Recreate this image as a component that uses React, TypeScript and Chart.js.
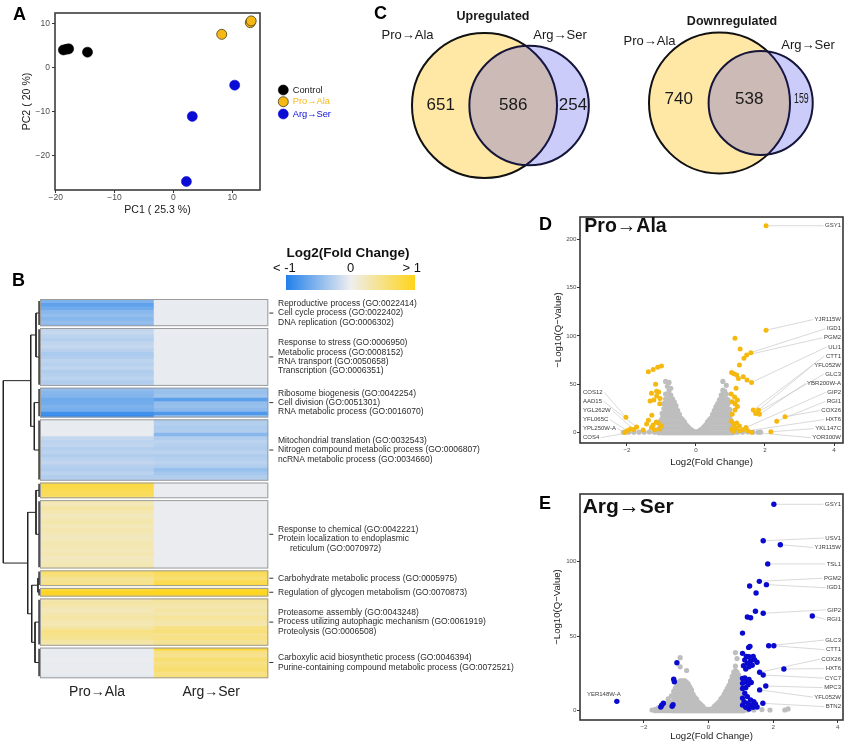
import React, { useEffect, useRef } from 'react';
import { Chart, registerables } from 'chart.js';

Chart.register(...registerables);

const FONT = "'Liberation Sans', Arial, Helvetica, sans-serif";

// ---------------- Panel A : PCA ----------------
const pcaLabels = ['Control', 'Pro→Ala', 'Arg→Ser'];
const pcaControlX = [-18.7, -18.2, -17.8, -14.6];
const pcaControlY = [4.1, 4.25, 4.35, 3.6];
const pcaProAlaX = [8.2, 13.05, 13.2];
const pcaProAlaY = [7.65, 10.3, 10.7];
const pcaArgSerX = [10.4, 3.2, 2.2];
const pcaArgSerY = [-3.9, -11.0, -25.8];
const pcaTicksX = [-20, -10, 0, 10];
const pcaTicksY = [-20, -10, 0, 10];
const pcaColors = ['#000000', '#F6B913', '#0B0BD6'];

// ---------------- Panel B : heatmap ----------------
const heatColumns = ['Pro→Ala', 'Arg→Ser'];
const clusterSizes = [8, 17, 9, 18, 5, 20, 5, 3, 14, 9];
const heatProAla = [
  -0.55, -0.7, -0.62, -0.5, -0.45, -0.5, -0.45, -0.48,
  -0.22, -0.2, -0.25, -0.28, -0.22, -0.2, -0.26, -0.33, -0.3, -0.24, -0.27, -0.22, -0.3, -0.28, -0.25, -0.3, -0.27,
  -0.45, -0.5, -0.52, -0.62, -0.6, -0.55, -0.58, -0.85, -0.9,
  -0.03, -0.03, -0.03, -0.03, -0.03, -0.2, -0.25, -0.22, -0.28, -0.25, -0.3, -0.25, -0.22, -0.28, -0.3, -0.25, -0.3, -0.28,
  0.8, 0.78, 0.72, 0.68, 0.62,
  0.3, 0.25, 0.35, 0.3, 0.22, 0.28, 0.32, 0.25, 0.3, 0.28, 0.22, 0.25, 0.3, 0.28, 0.25, 0.3, 0.22, 0.25, 0.28, 0.3,
  0.62, 0.55, 0.42, 0.45, 0.52,
  0.85, 0.95, 0.9,
  0.3, 0.35, 0.3, 0.25, 0.3, 0.35, 0.3, 0.28, 0.35, 0.5, 0.48, 0.42, 0.35, 0.3,
  -0.03, -0.03, -0.03, -0.02, -0.03, -0.03, -0.02, -0.03, -0.06,
];
const heatArgSer = [
  -0.03, -0.03, -0.03, -0.03, -0.03, -0.03, -0.03, -0.03,
  -0.03, -0.03, -0.03, -0.03, -0.03, -0.03, -0.03, -0.03, -0.03, -0.03, -0.03, -0.03, -0.03, -0.03, -0.03, -0.03, -0.03,
  -0.4, -0.42, -0.38, -0.72, -0.45, -0.42, -0.48, -0.78, -0.42,
  -0.3, -0.28, -0.32, -0.3, -0.5, -0.3, -0.25, -0.28, -0.3, -0.25, -0.3, -0.28, -0.25, -0.3, -0.42, -0.35, -0.3, -0.28,
  -0.02, -0.02, -0.02, -0.02, -0.02,
  -0.02, -0.02, -0.02, -0.02, -0.02, -0.02, -0.02, -0.02, -0.02, -0.02, -0.02, -0.02, -0.02, -0.02, -0.02, -0.02, -0.02, -0.02, -0.02, -0.02,
  0.72, 0.66, 0.58, 0.75, 0.8,
  0.9, 0.97, 0.88,
  0.38, 0.35, 0.3, 0.35, 0.3, 0.4, 0.35, 0.3, 0.5, 0.55, 0.45, 0.5, 0.42, 0.45,
  0.85, 0.5, 0.45, 0.6, 0.5, 0.55, 0.6, 0.5, 0.55,
];
const goTerms: string[][] = [
  ['Reproductive process (GO:0022414)', 'Cell cycle process (GO:0022402)', 'DNA replication (GO:0006302)'],
  ['Response to stress (GO:0006950)', 'Metabolic process (GO:0008152)', 'RNA transport (GO:0050658)', 'Transcription (GO:0006351)'],
  ['Ribosome biogenesis (GO:0042254)', 'Cell division (GO:0051301)', 'RNA metabolic process (GO:0016070)'],
  ['Mitochondrial translation (GO:0032543)', 'Nitrogen compound metabolic process (GO:0006807)', 'ncRNA metabolic process (GO:0034660)'],
  [],
  ['Response to chemical (GO:0042221)', 'Protein localization to endoplasmic', ' reticulum (GO:0070972)'],
  ['Carbohydrate metabolic process (GO:0005975)'],
  ['Regulation of glycogen metabolism (GO:0070873)'],
  ['Proteasome assembly (GO:0043248)', 'Process utilizing autophagic mechanism (GO:0061919)', 'Proteolysis (GO:0006508)'],
  ['Carboxylic acid biosynthetic process (GO:0046394)', 'Purine-containing compound metabolic process (GO:0072521)'],
];
const heatLegendTitle = 'Log2(Fold Change)';
const heatLegendLabels = ['< -1', '0', '> 1'];
// dendrogram: [childA, childB, height]; leaves 0..9 are clusters, merges create nodes 10..
const dendroMerges: [number, number, number][] = [
  [0, 1, 0.109],
  [2, 3, 0.155],
  [10, 11, 0.253],
  [4, 5, 0.109],
  [6, 7, 0.055],
  [8, 9, 0.136],
  [14, 15, 0.226],
  [13, 16, 0.335],
  [12, 17, 1.0],
];
const dendroLeafHeight = 0.025;

// ---------------- Panel C : Venn ----------------
const vennSetNames = ['Pro→Ala', 'Arg→Ser'];
const vennTitles = ['Upregulated', 'Downregulated'];
const vennUpCounts = [651, 586, 254];
const vennDownCounts = [740, 538, 159];

// ---------------- Panel D : volcano Pro→Ala ----------------
const volDTicksX = [-2, 0, 2, 4];
const volDTicksY = [0, 50, 100, 150, 200];
const sigDX = [2.03, 2.03, 1.13, 1.28, 1.59, 1.47, 1.39, 1.26, 1.03, 1.10, 1.18, 1.37, 1.23, 1.48, 1.61, 1.16, 1.02, 1.12, 1.20, 1.05,
  1.13, 1.20, 1.13, 1.05, 1.66, 1.81, 1.73, 1.84, 2.34, 2.58, 1.02, 1.10, 1.18, 1.15, 1.26, 1.03, 1.35, 1.45, 1.50, 1.61, 2.17, 1.08, 1.25,
  -1.38, -1.24, -1.11, -1.00, -1.17, -1.14, -1.29, -1.14, -1.04, -1.33, -1.22, -1.05, -1.08, -1.28, -1.38, -1.24, -1.09, -1.00, -1.29,
  -1.43, -1.15, -1.05, -1.20, -2.03, -1.72, -1.80, -2.00, -2.06, -1.53, -1.90];
const sigDY = [214, 106, 97.6, 86.6, 82.8, 80.3, 77, 70, 62.4, 61, 59.7, 58, 56, 54.5, 52, 45.9, 40, 37, 33.8, 32,
  30, 27, 23.4, 19, 23.4, 23.4, 20, 19, 12, 16.5, 12, 9, 10, 5, 7, 4, 3, 5.5, 2, 0.5, 1, 1.5, 2,
  63, 65.5, 67.6, 69, 50, 43, 40.7, 38, 35.5, 32.8, 33.8, 30, 42, 18, 13, 8, 10, 7, 5.5,
  9, 11, 4, 3, 16, 6, 3.4, 2, 0.3, 2.8, 4];
const grayDCols: [number, number[]][] = [
  [0.03, [0, 1]], [0.08, [0, 1.5]], [0.13, [0, 2, 3]], [0.18, [0, 2, 4]], [0.23, [0, 3, 6]], [0.28, [0, 4, 8]],
  [0.33, [0, 4, 8, 11]], [0.38, [0, 5, 9, 13]], [0.43, [0, 5, 10, 15]], [0.48, [0, 5, 10, 15, 19]],
  [0.53, [0, 5, 10, 15, 20, 23]], [0.58, [0, 5, 10, 15, 20, 25, 27]], [0.63, [0, 5, 10, 15, 20, 25, 30]],
  [0.68, [0, 5, 10, 15, 20, 25, 30, 34]], [0.73, [0, 5, 10, 15, 20, 25, 30, 35, 39]],
  [0.78, [0, 5, 10, 15, 20, 25, 30, 35, 40, 44, 53]], [0.83, [0, 5, 10, 15, 20, 25, 30, 35, 40, 43]],
  [0.88, [0, 5, 10, 15, 20, 25, 30, 35, 40, 49]], [0.93, [0, 5, 10, 15, 20, 25, 30, 34]],
  [0.98, [0, 5, 10, 15, 20, 24]], [1.03, [0, 4, 8, 12]], [1.08, [0, 2, 4]],
  [1.2, [0.5]], [1.35, [0.5]], [1.5, [0.8]], [1.65, [0.5]], [1.8, [0.5]], [1.87, [0.6]],
  [-0.03, [0, 1]], [-0.08, [0, 1.5]], [-0.13, [0, 2, 3]], [-0.18, [0, 2, 4]], [-0.23, [0, 3, 6]], [-0.28, [0, 4, 8]],
  [-0.33, [0, 4, 8, 11]], [-0.38, [0, 5, 9, 13]], [-0.43, [0, 5, 10, 15]], [-0.48, [0, 5, 10, 15, 19]],
  [-0.53, [0, 5, 10, 15, 20, 23]], [-0.58, [0, 5, 10, 15, 20, 25, 28]], [-0.63, [0, 5, 10, 15, 20, 25, 30, 32]],
  [-0.68, [0, 5, 10, 15, 20, 25, 30, 35]], [-0.73, [0, 5, 10, 15, 20, 25, 30, 35, 39, 46]],
  [-0.78, [0, 5, 10, 15, 20, 25, 30, 35, 40, 44, 52]], [-0.83, [0, 5, 10, 15, 20, 25, 30, 35, 40, 48]],
  [-0.88, [0, 5, 10, 15, 20, 25, 30, 35, 40, 53]], [-0.93, [0, 5, 10, 15, 20, 25, 30]],
  [-0.98, [0, 5, 10, 15, 20]], [-1.03, [0, 4, 8, 12]], [-1.08, [0, 2, 4]],
  [-1.2, [0.5]], [-1.35, [0.8]], [-1.5, [0.5]], [-1.65, [0.6]], [-1.8, [0.5]], [-1.95, [0.5]], [-2.1, [0.4]],
];
const labDRightNames = ['GSY1', 'YJR115W', 'IGD1', 'PGM2', 'ULI1', 'CTT1', 'YFL052W', 'GLC3', 'YBR200W-A', 'GIP2', 'RGI1', 'COX26', 'HXT6', 'YKL147C', 'YOR300W'];
const labDRightX = [2.03, 2.03, 1.59, 1.47, 1.61, 1.66, 1.81, 1.73, 1.84, 1.45, 2.34, 2.58, 1.50, 2.17, 1.61];
const labDRightY = [214, 106, 82.8, 80.3, 52, 23.4, 23.4, 20, 19, 5.5, 12, 16.5, 2, 1, 0.5];
const labDLeftNames = ['COS12', 'AAD15', 'YGL262W', 'YFL065C', 'YPL250W-A', 'COS4'];
const labDLeftX = [-2.03, -1.72, -1.80, -2.00, -2.06, -1.53];
const labDLeftY = [16, 6, 3.4, 2, 0.3, 2.8];

// ---------------- Panel E : volcano Arg→Ser ----------------
const volETicksX = [-2, 0, 2, 4];
const volETicksY = [0, 50, 100];
const sigEX = [2.02, 1.69, 2.22, 1.83, 1.57, 1.79, 1.27, 1.47, 1.45, 1.69, 3.21, 1.20, 1.30, 1.05, 1.24, 1.28, 1.86, 2.02,
  1.05, 1.17, 1.25, 1.38, 1.42, 1.12, 1.30, 1.50, 1.20, 1.35, 1.08, 1.25, 1.15, 2.33, 1.58, 1.69, 1.05, 1.12, 1.25, 1.18,
  1.32, 1.05, 1.22, 1.77, 1.05, 1.15, 1.58, 1.12, 1.05, 1.20, 1.30, 1.10, 1.40, 1.22, 1.45, 1.68, 1.05, 1.30, 1.15, 1.38, 1.50, 1.25,
  -0.98, -1.08, -1.06, -1.40, -1.45, -1.48, -1.10, -1.13, -2.84];
const sigEY = [138.5, 114, 111.4, 98.5, 86.8, 84.6, 83.7, 79, 66.7, 65.4, 63.6, 62.9, 62.4, 52.1, 42.5, 43.2, 43.6, 43.6,
  38.5, 36.5, 36.3, 36.5, 34.2, 34, 33.5, 32.5, 31.8, 30.5, 30.2, 29.5, 28, 28, 25.8, 24, 21.7, 22, 21, 19.5,
  19, 18.4, 17.5, 16.6, 15, 15.5, 14, 11.7, 8.5, 9.5, 7.2, 6, 6, 5, 4.5, 5, 3.8, 3.5, 2.3, 2.3, 2.5, 1.2,
  32.2, 21.1, 19.5, 5, 3.7, 2.5, 4, 3, 6.3];
const grayECols: [number, number[]][] = [
  [0.03, [0, 1]], [0.08, [0, 1]], [0.13, [0, 1.5]], [0.18, [0, 2, 3]], [0.23, [0, 2, 4]], [0.28, [0, 3, 5]],
  [0.33, [0, 3, 6]], [0.38, [0, 3, 6, 8]], [0.43, [0, 3, 6, 9]], [0.48, [0, 3, 6, 9, 11]],
  [0.53, [0, 3, 6, 9, 12, 13]], [0.58, [0, 3, 6, 9, 12, 15]], [0.63, [0, 3, 6, 9, 12, 15, 17]],
  [0.68, [0, 3, 6, 9, 12, 15, 18, 20]], [0.73, [0, 3, 6, 9, 12, 15, 18, 21, 23]],
  [0.78, [0, 3, 6, 9, 12, 15, 18, 21, 24, 26]], [0.83, [0, 3, 6, 9, 12, 15, 18, 21, 24, 27, 30, 39]],
  [0.88, [0, 3, 6, 9, 12, 15, 18, 21, 24, 26, 35]], [0.93, [0, 3, 6, 9, 12, 15, 18, 21, 24]],
  [0.98, [0, 3, 6, 9, 12, 15, 18, 20]], [1.03, [0, 3, 6, 9, 12]], [1.08, [0, 2, 4]],
  [1.2, [0.5]], [1.4, [0.5]], [1.65, [0.8]], [1.9, [0.5]], [2.36, [0.5]], [2.46, [1.2]],
  [-0.03, [0, 1]], [-0.08, [0, 1]], [-0.13, [0, 1.5]], [-0.18, [0, 2, 3]], [-0.23, [0, 2, 4]], [-0.28, [0, 3, 5]],
  [-0.33, [0, 3, 6]], [-0.38, [0, 3, 6, 8]], [-0.43, [0, 3, 6, 9]], [-0.48, [0, 3, 6, 9, 11]],
  [-0.53, [0, 3, 6, 9, 12, 14]], [-0.58, [0, 3, 6, 9, 12, 15, 16]], [-0.63, [0, 3, 6, 9, 12, 15, 18]],
  [-0.68, [0, 3, 6, 9, 12, 15, 18, 19, 27]], [-0.73, [0, 3, 6, 9, 12, 15, 18, 20]],
  [-0.78, [0, 3, 6, 9, 12, 15, 18, 20]], [-0.83, [0, 3, 6, 9, 12, 15, 18, 20]],
  [-0.88, [0, 3, 6, 9, 12, 15, 18, 20, 29.5, 35.6]], [-0.93, [0, 3, 6, 9, 12, 15, 19]],
  [-0.98, [0, 3, 6, 9, 12, 15, 17]], [-1.03, [0, 3, 6, 9, 12, 15]], [-1.08, [0, 3, 6, 9, 13]],
  [-1.15, [0, 3, 6, 10]], [-1.25, [0, 3, 6, 8]], [-1.35, [0, 2.5, 5]], [-1.45, [0, 2, 3.5]],
  [-1.55, [0, 2]], [-1.65, [0, 1]], [-1.75, [0.5]],
];
const labERightNames = ['GSY1', 'USV1', 'YJR115W', 'TSL1', 'PGM2', 'IGD1', 'GIP2', 'RGI1', 'GLC3', 'CTT1', 'COX26', 'HXT6', 'CYC7', 'MPC3', 'YFL052W', 'BTN2'];
const labERightX = [2.02, 1.69, 2.22, 1.83, 1.57, 1.79, 1.69, 3.21, 1.86, 2.02, 1.58, 2.33, 1.69, 1.77, 1.58, 1.68];
const labERightY = [138.5, 114, 111.4, 98.5, 86.8, 84.6, 65.4, 63.6, 43.6, 43.6, 25.8, 28, 24, 16.6, 14, 5];
const labEAboveNames = ['YER148W-A'];
const labEAboveX = [-2.84];
const labEAboveY = [6.3];

// ================= helpers =================
const fmtTick = (v: number) => (v < 0 ? '\u2212' + Math.abs(v) : String(v));
const pts = (xs: number[], ys: number[]) => xs.map((x, i) => ({ x, y: ys[i] }));
const flatCols = (cols: [number, number[]][]) => cols.flatMap(([x, ys]) => ys.map((y) => ({ x, y })));

const cNeg = [33, 128, 235];
const cMid = [238, 238, 239];
const cPos = [255, 212, 25];
function heatColor(v: number) {
  const t = Math.max(-1, Math.min(1, v));
  const end = t < 0 ? cNeg : cPos;
  const f = Math.abs(t);
  const c = cMid.map((m, i) => Math.round(m + (end[i] - m) * f));
  return `rgb(${c[0]},${c[1]},${c[2]})`;
}

function axis(o: any) {
  return {
    type: 'linear',
    min: o.min,
    max: o.max,
    afterBuildTicks: (s: any) => {
      s.ticks = o.ticks.map((v: number) => ({ value: v }));
    },
    afterFit: (s: any) => {
      if (o.horizontal) s.height = o.fit;
      else s.width = o.fit;
    },
    grid: { display: true, drawOnChartArea: false, drawTicks: true, tickLength: o.tickLen, color: '#333333', lineWidth: 1 },
    border: { display: false },
    ticks: {
      autoSkip: false,
      maxRotation: 0,
      padding: o.tickPad,
      color: '#4d4d4d',
      font: { size: o.size, family: FONT },
      callback: (v: any) => fmtTick(Number(v)),
    },
    title: {
      display: true,
      text: o.title,
      color: '#1a1a1a',
      font: { size: o.titleSize, family: FONT },
      padding: o.titlePad,
    },
  };
}

function framePlugin(color: string, width: number) {
  return {
    id: 'frame',
    afterDraw(chart: any) {
      const { ctx, chartArea: a } = chart;
      ctx.save();
      ctx.strokeStyle = color;
      ctx.lineWidth = width;
      ctx.strokeRect(a.left, a.top, a.right - a.left, a.bottom - a.top);
      ctx.restore();
    },
  };
}

const baseOpts = {
  responsive: false,
  animation: false,
  events: [],
  plugins: { legend: { display: false }, tooltip: { enabled: false } },
};

// ================= Panel A =================
function makePCA(canvas: HTMLCanvasElement) {
  const legendPlugin = {
    id: 'pcaLegend',
    afterDraw(chart: any) {
      const { ctx, chartArea: a } = chart;
      const offs = [77, 88.7, 101];
      ctx.save();
      chart.data.datasets.forEach((ds: any, i: number) => {
        const cx = a.right + 23.3;
        const cy = a.top + offs[i];
        ctx.beginPath();
        ctx.arc(cx, cy, 5, 0, Math.PI * 2);
        ctx.fillStyle = ds.backgroundColor;
        ctx.fill();
        ctx.lineWidth = ds.borderWidth;
        ctx.strokeStyle = ds.borderColor;
        ctx.stroke();
        ctx.fillStyle = i === 0 ? '#1a1a1a' : ds.backgroundColor;
        ctx.font = `9.3px ${FONT}`;
        ctx.textBaseline = 'middle';
        ctx.textAlign = 'left';
        ctx.fillText(ds.label, cx + 9.4, cy);
      });
      ctx.restore();
    },
  };
  return new Chart(canvas, {
    type: 'scatter',
    data: {
      datasets: [
        { label: pcaLabels[0], data: pts(pcaControlX, pcaControlY), backgroundColor: pcaColors[0], borderColor: '#000000', borderWidth: 0.6, pointRadius: 5 },
        { label: pcaLabels[1], data: pts(pcaProAlaX, pcaProAlaY), backgroundColor: pcaColors[1], borderColor: '#4a3c10', borderWidth: 0.8, pointRadius: 5 },
        { label: pcaLabels[2], data: pts(pcaArgSerX, pcaArgSerY), backgroundColor: pcaColors[2], borderColor: pcaColors[2], borderWidth: 0.6, pointRadius: 5 },
      ],
    },
    options: {
      ...baseOpts,
      layout: { padding: { left: 0, top: 13, right: 100, bottom: 0 } },
      scales: {
        x: axis({ horizontal: true, min: -20.12, max: 14.7, ticks: pcaTicksX, size: 8.5, tickLen: 3, tickPad: 0, fit: 35, title: 'PC1 ( 25.3 %)', titleSize: 10.6, titlePad: { top: 0, bottom: 8.6 } }),
        y: axis({ horizontal: false, min: -27.73, max: 12.5, ticks: pcaTicksY, size: 8.5, tickLen: 3, tickPad: 2, fit: 55, title: 'PC2 ( 20 %)', titleSize: 10.6, titlePad: { top: 20.3, bottom: 0 } }),
      },
    } as any,
    plugins: [framePlugin('#3d3d3d', 1.6), legendPlugin],
  } as any);
}

// ================= Panel B =================
function clusterBounds() {
  const b: [number, number][] = [];
  let s = 0;
  clusterSizes.forEach((n) => {
    b.push([s, s + n]);
    s += n;
  });
  return b;
}

function makeHeat(canvas: HTMLCanvasElement) {
  const datasets = heatProAla.map((v, i) => ({
    data: [1, 1],
    backgroundColor: [heatColor(v), heatColor(heatArgSer[i])],
    borderWidth: 0,
    barPercentage: 1,
    categoryPercentage: 1,
    stack: 'h',
    inflateAmount: 0.4,
  }));
  const decor = {
    id: 'heatDecor',
    afterDatasetsDraw(chart: any) {
      const { ctx, chartArea: a, scales } = chart;
      const y = scales.y;
      const bounds = clusterBounds();
      const last = bounds.length - 1;
      const boxes = bounds.map(([s0, s1], k) => [
        y.getPixelForValue(s0) + (k > 0 ? 0.9 : 0),
        y.getPixelForValue(s1) - (k < last ? 0.9 : 0),
      ]);
      ctx.save();
      ctx.fillStyle = '#ffffff';
      for (let k = 0; k < last; k++) {
        ctx.fillRect(a.left - 1, boxes[k][1], a.right - a.left + 2, boxes[k + 1][0] - boxes[k][1]);
      }
      ctx.strokeStyle = '#9c9c9c';
      ctx.lineWidth = 1;
      boxes.forEach(([t, b]) => ctx.strokeRect(a.left + 0.5, t + 0.5, a.right - a.left - 1, b - t - 1));
      // GO labels
      ctx.font = `8.5px ${FONT}`;
      ctx.textBaseline = 'middle';
      ctx.textAlign = 'left';
      const lh = 9.4;
      goTerms.forEach((terms, k) => {
        if (!terms.length) return;
        const cy = (y.getPixelForValue(bounds[k][0]) + y.getPixelForValue(bounds[k][1])) / 2;
        ctx.strokeStyle = '#333333';
        ctx.lineWidth = 1;
        ctx.beginPath();
        ctx.moveTo(a.right + 1, cy);
        ctx.lineTo(a.right + 5, cy);
        ctx.stroke();
        const main = terms.filter((t) => !t.startsWith(' ')).length;
        const y0 = cy - ((main - 1) / 2) * lh;
        ctx.fillStyle = '#2a2a2a';
        terms.forEach((t, i) => {
          const indent = t.startsWith(' ') ? 12 : 0;
          ctx.fillText(t.trim(), a.right + 9.7 + indent, y0 + i * lh);
        });
      });
      // colour bar legend
      const bx0 = 286, bx1 = 415, by0 = 35, by1 = 50;
      const g = ctx.createLinearGradient(bx0, 0, bx1, 0);
      for (let i = 0; i <= 20; i++) g.addColorStop(i / 20, heatColor(-1 + (2 * i) / 20));
      ctx.fillStyle = g;
      ctx.fillRect(bx0, by0, bx1 - bx0, by1 - by0);
      ctx.fillStyle = '#111111';
      ctx.font = `bold 13.5px ${FONT}`;
      ctx.textAlign = 'center';
      ctx.fillText(heatLegendTitle, 348, 13);
      ctx.font = `13px ${FONT}`;
      ctx.textAlign = 'left';
      ctx.fillText(heatLegendLabels[0], 273, 28);
      ctx.textAlign = 'center';
      ctx.fillText(heatLegendLabels[1], 350.5, 28);
      ctx.textAlign = 'right';
      ctx.fillText(heatLegendLabels[2], 421, 28);
      ctx.restore();
    },
  };
  return new Chart(canvas, {
    type: 'bar',
    data: { labels: heatColumns, datasets },
    options: {
      ...baseOpts,
      layout: { padding: { left: 40, top: 59, right: 520 - 268.3, bottom: 0 } },
      scales: {
        x: {
          stacked: true,
          grid: { display: false },
          border: { display: false },
          afterFit: (s: any) => {
            s.height = 31.7;
          },
          ticks: { color: '#222222', font: { size: 14, family: FONT }, padding: -2.5 },
        },
        y: { stacked: true, display: false, min: 0, max: heatProAla.length, reverse: true },
      },
    } as any,
    plugins: [decor],
  } as any);
}

function makeDendro(canvas: HTMLCanvasElement) {
  const bounds = clusterBounds();
  const nodes = bounds.map(([s0, s1]) => ({ y: (s0 + s1) / 2, h: dendroLeafHeight }));
  const seg = (data: any[], color: string, width: number) => ({
    data,
    showLine: true,
    pointRadius: 0,
    borderColor: color,
    borderWidth: width,
    tension: 0,
    fill: false,
    clip: 6,
  });
  const datasets: any[] = [];
  bounds.forEach(([s0, s1]) => {
    datasets.push(seg([{ x: dendroLeafHeight, y: s0 + 0.6 }, { x: dendroLeafHeight, y: s1 - 0.6 }], '#3a3a3a', 1.6));
  });
  dendroMerges.forEach(([ia, ib, h]) => {
    const A = nodes[ia];
    const B = nodes[ib];
    datasets.push(seg([{ x: A.h, y: A.y }, { x: h, y: A.y }, { x: h, y: B.y }, { x: B.h, y: B.y }], '#222222', 1));
    nodes.push({ y: (A.y + B.y) / 2, h });
  });
  return new Chart(canvas, {
    type: 'scatter',
    data: { datasets },
    options: {
      ...baseOpts,
      layout: { padding: { left: 3.3, top: 59, right: 5, bottom: 31.7 } },
      scales: {
        x: { type: 'linear', display: false, min: 0, max: 1, reverse: true },
        y: { type: 'linear', display: false, min: 0, max: heatProAla.length, reverse: true },
      },
    } as any,
  } as any);
}

// ================= Panel C =================
function lensArea(r1: number, r2: number, d: number) {
  if (d >= r1 + r2) return 0;
  if (d <= Math.abs(r1 - r2)) return Math.PI * Math.min(r1, r2) ** 2;
  const a1 = Math.acos((d * d + r1 * r1 - r2 * r2) / (2 * d * r1));
  const a2 = Math.acos((d * d + r2 * r2 - r1 * r1) / (2 * d * r2));
  const k = 0.5 * Math.sqrt((-d + r1 + r2) * (d + r1 - r2) * (d - r1 + r2) * (d + r1 + r2));
  return r1 * r1 * a1 + r2 * r2 * a2 - k;
}
function vennGeometry(counts: number[], r1: number) {
  const [a, ab, b] = counts;
  const n1 = a + ab;
  const n2 = ab + b;
  const unit = (Math.PI * r1 * r1) / n1;
  const r2 = r1 * Math.sqrt(n2 / n1);
  const target = ab * unit;
  let lo = Math.abs(r1 - r2);
  let hi = r1 + r2;
  for (let i = 0; i < 60; i++) {
    const m = (lo + hi) / 2;
    if (lensArea(r1, r2, m) > target) lo = m;
    else hi = m;
  }
  return { r1, r2, d: (lo + hi) / 2 };
}

function makeVenn(canvas: HTMLCanvasElement) {
  const up = vennGeometry(vennUpCounts, 72.5);
  const dn = vennGeometry(vennDownCounts, 70.5);
  const upC = { x: 124.5, y: 105.5 };
  const dnC = { x: 359.5, y: 103 };
  const blueFill = 'rgba(40,40,235,0.24)';
  const yellowFill = '#FFE8A6';
  const venns = [
    { g: up, c: upC, counts: vennUpCounts, dy: 0, title: vennTitles[0], tPos: [133, 17], aPos: [47.5, 35], bPos: [200, 35] },
    { g: dn, c: dnC, counts: vennDownCounts, dy: -4, title: vennTitles[1], tPos: [372, 22], aPos: [289.5, 41.7], bPos: [448, 45] },
  ];
  const labels = {
    id: 'vennLabels',
    afterDatasetsDraw(chart: any) {
      const { ctx, scales } = chart;
      const xs = scales.x;
      const ys = scales.y;
      ctx.save();
      ctx.textBaseline = 'middle';
      ctx.textAlign = 'center';
      ctx.fillStyle = '#1a1a1a';
      venns.forEach((v) => {
        const cx = xs.getPixelForValue(v.c.x);
        const cy = ys.getPixelForValue(v.c.y) + v.dy;
        const bigL = xs.getPixelForValue(v.c.x - v.g.r1);
        const bigR = xs.getPixelForValue(v.c.x + v.g.r1);
        const smL = xs.getPixelForValue(v.c.x + v.g.d - v.g.r2);
        const smR = xs.getPixelForValue(v.c.x + v.g.d + v.g.r2);
        ctx.font = `17px ${FONT}`;
        ctx.fillText(String(v.counts[0]), (bigL + smL) / 2, cy);
        ctx.fillText(String(v.counts[1]), (smL + bigR) / 2, cy);
        const w = smR - bigR;
        if (w < 30) {
          ctx.font = `14px ${FONT}`;
          ctx.fillText(String(v.counts[2]), (bigR + smR) / 2, cy, w - 8);
        } else {
          ctx.fillText(String(v.counts[2]), (bigR + smR) / 2, cy);
        }
        ctx.font = `bold 12.5px ${FONT}`;
        ctx.fillText(v.title, v.tPos[0], v.tPos[1]);
        ctx.font = `13px ${FONT}`;
        ctx.fillText(vennSetNames[0], v.aPos[0], v.aPos[1]);
        ctx.fillText(vennSetNames[1], v.bPos[0], v.bPos[1]);
        void cx;
      });
      ctx.restore();
    },
  };
  const ds = (c: any, r: number, fill: string, stroke: string, order: number) => ({
    data: [{ x: c.x, y: c.y, r }],
    backgroundColor: fill,
    borderColor: stroke,
    borderWidth: 2,
    order,
    clip: false,
  });
  return new Chart(canvas, {
    type: 'bubble',
    data: {
      datasets: [
        ds({ x: upC.x + up.d, y: upC.y }, up.r2, blueFill, '#15153a', 0),
        ds(upC, up.r1, yellowFill, '#111111', 1),
        ds({ x: dnC.x + dn.d, y: dnC.y }, dn.r2, blueFill, '#15153a', 0),
        ds(dnC, dn.r1, yellowFill, '#111111', 1),
      ],
    },
    options: {
      ...baseOpts,
      layout: { padding: 0, autoPadding: false },
      scales: {
        x: { type: 'linear', display: false, min: 0, max: 490 },
        y: { type: 'linear', display: false, min: 0, max: 190, reverse: true },
      },
    } as any,
    plugins: [labels],
  } as any);
}

// ================= Panels D & E =================
function relax(ys: number[], spacing: number, minY: number, maxY: number) {
  const y = ys.slice();
  for (let it = 0; it < 400; it++) {
    for (let i = 0; i < y.length - 1; i++) {
      const d = y[i + 1] - y[i];
      if (d < spacing) {
        const m = (spacing - d) / 2;
        y[i] -= m;
        y[i + 1] += m;
      }
    }
    for (let i = 0; i < y.length; i++) y[i] = Math.min(maxY, Math.max(minY, y[i]));
  }
  return y;
}

function geneLabelPlugin(cfg: any) {
  const layout = (chart: any) => {
    const { ctx, chartArea: a, scales } = chart;
    const out: any[] = [];
    ctx.save();
    ctx.font = `${cfg.font}px ${FONT}`;
    const side = (set: any, kind: string) => {
      if (!set) return;
      const px = set.xs.map((v: number) => scales.x.getPixelForValue(v));
      const py = set.ys.map((v: number) => scales.y.getPixelForValue(v));
      const ly = kind === 'above' ? py.map((v: number) => v - 7) : relax(py, cfg.spacing, a.top + 6, a.bottom - 5.3);
      set.names.forEach((nm: string, i: number) => {
        const w = ctx.measureText(nm).width;
        let tx = 0;
        let lx = 0;
        let line = true;
        if (kind === 'right') {
          tx = a.right - 2 - w;
          lx = tx - 1.5;
        } else if (kind === 'left') {
          tx = a.left + 3;
          lx = tx + w + 1.5;
        } else {
          tx = px[i] + 4 - w;
          line = false;
        }
        out.push({ nm, tx, ty: ly[i], px: px[i], py: py[i], lx, line });
      });
    };
    side(cfg.right, 'right');
    side(cfg.left, 'left');
    side(cfg.above, 'above');
    ctx.restore();
    return out;
  };
  return {
    id: 'geneLabels',
    beforeDatasetsDraw(chart: any) {
      const { ctx } = chart;
      const items = layout(chart);
      ctx.save();
      ctx.strokeStyle = '#c8c8c8';
      ctx.lineWidth = 0.7;
      items.forEach((it) => {
        if (!it.line) return;
        ctx.beginPath();
        ctx.moveTo(it.px, it.py);
        ctx.lineTo(it.lx, it.ty);
        ctx.stroke();
      });
      ctx.restore();
    },
    afterDatasetsDraw(chart: any) {
      const { ctx } = chart;
      const items = layout(chart);
      ctx.save();
      ctx.font = `${cfg.font}px ${FONT}`;
      ctx.textBaseline = 'middle';
      ctx.textAlign = 'left';
      ctx.fillStyle = '#3a3a3a';
      items.forEach((it) => ctx.fillText(it.nm, it.tx, it.ty));
      ctx.restore();
    },
  };
}

function titlePlugin(text: string, size: number, dx: number, baseline: number) {
  return {
    id: 'volTitle',
    afterDraw(chart: any) {
      const { ctx, chartArea: a } = chart;
      ctx.save();
      ctx.font = `bold ${size}px ${FONT}`;
      ctx.fillStyle = '#111111';
      ctx.textAlign = 'left';
      ctx.textBaseline = 'alphabetic';
      ctx.fillText(text, a.left + dx, a.top + baseline);
      ctx.restore();
    },
  };
}

function makeVolcano(canvas: HTMLCanvasElement, c: any) {
  return new Chart(canvas, {
    type: 'scatter',
    data: {
      datasets: [
        { data: pts(c.sigX, c.sigY), backgroundColor: c.color, borderWidth: 0, pointRadius: c.sigR, order: 0 },
        { data: flatCols(c.grayCols), backgroundColor: '#BEBEBE', borderWidth: 0, pointRadius: 2.6, order: 1 },
      ],
    },
    options: {
      ...baseOpts,
      layout: { padding: { left: 0, top: c.padTop, right: 7, bottom: 0 } },
      scales: {
        x: axis({ horizontal: true, min: c.xMin, max: c.xMax, ticks: c.xTicks, size: 6.2, tickLen: 3, tickPad: 0.5, fit: c.xFit, title: 'Log2(Fold Change)', titleSize: 9.6, titlePad: { top: 0, bottom: c.xTitlePad } }),
        y: axis({ horizontal: false, min: c.yMin, max: c.yMax, ticks: c.yTicks, size: 6.2, tickLen: 3, tickPad: 0.5, fit: 90, title: '\u2212Log10(Q\u2212Value)', titleSize: 9.6, titlePad: { top: c.yTitlePad, bottom: 0 } }),
      },
    } as any,
    plugins: [framePlugin('#363636', 1.6), titlePlugin(c.title, c.titleSize, c.titleDx, c.titleBase), geneLabelPlugin(c.labels)],
  } as any);
}

function makeVolD(canvas: HTMLCanvasElement) {
  return makeVolcano(canvas, {
    sigX: sigDX, sigY: sigDY, grayCols: grayDCols, color: '#F5B80F', sigR: 2.5,
    padTop: 22, xFit: 32, xMin: -3.36, xMax: 4.26, yMin: -10.6, yMax: 223,
    xTicks: volDTicksX, yTicks: volDTicksY, xTitlePad: 7.2, yTitlePad: 62.5,
    title: 'Pro→Ala', titleSize: 19.5, titleDx: 4.3, titleBase: 14.7,
    labels: {
      font: 6, spacing: 9.1,
      right: { names: labDRightNames, xs: labDRightX, ys: labDRightY },
      left: { names: labDLeftNames, xs: labDLeftX, ys: labDLeftY },
    },
  });
}

function makeVolE(canvas: HTMLCanvasElement) {
  return makeVolcano(canvas, {
    sigX: sigEX, sigY: sigEY, grayCols: grayECols, color: '#0A0ACF', sigR: 2.7,
    padTop: 19, xFit: 27, xMin: -3.98, xMax: 4.16, yMin: -6.2, yMax: 145.4,
    xTicks: volETicksX, yTicks: volETicksY, xTitlePad: 4.6, yTitlePad: 61.5,
    title: 'Arg→Ser', titleSize: 21, titleDx: 2.7, titleBase: 18.7,
    labels: {
      font: 6, spacing: 9.5,
      right: { names: labERightNames, xs: labERightX, ys: labERightY },
      above: { names: labEAboveNames, xs: labEAboveX, ys: labEAboveY },
    },
  });
}

// ================= components =================
function ChartCanvas(props: { left: number; top: number; width: number; height: number; make: (c: HTMLCanvasElement) => any }) {
  const ref = useRef<HTMLCanvasElement>(null);
  useEffect(() => {
    const chart = props.make(ref.current as HTMLCanvasElement);
    return () => chart.destroy();
  }, []);
  return (
    <canvas
      ref={ref}
      width={props.width}
      height={props.height}
      style={{ position: 'absolute', left: props.left, top: props.top, width: props.width, height: props.height }}
    />
  );
}

function Letter(props: { x: number; y: number; children: string }) {
  return (
    <div
      style={{
        position: 'absolute',
        left: props.x,
        top: props.y,
        fontFamily: FONT,
        fontWeight: 'bold',
        fontSize: 18,
        lineHeight: '18px',
        color: '#000',
      }}
    >
      {props.children}
    </div>
  );
}

export default function App() {
  return (
    <div style={{ position: 'absolute', left: 0, top: 0, width: 850, height: 747, background: '#ffffff', overflow: 'hidden', fontFamily: FONT }}>
      <ChartCanvas left={0} top={0} width={360} height={225} make={makePCA} />
      <ChartCanvas left={0} top={240} width={520} height={470} make={makeHeat} />
      <ChartCanvas left={0} top={240} width={45} height={470} make={makeDendro} />
      <ChartCanvas left={360} top={0} width={490} height={190} make={makeVenn} />
      <ChartCanvas left={490} top={195} width={360} height={280} make={makeVolD} />
      <ChartCanvas left={490} top={475} width={360} height={272} make={makeVolE} />
      <Letter x={13} y={4.6}>A</Letter>
      <Letter x={12} y={271}>B</Letter>
      <Letter x={374} y={3.7}>C</Letter>
      <Letter x={539} y={215.3}>D</Letter>
      <Letter x={539} y={493.7}>E</Letter>
    </div>
  );
}
